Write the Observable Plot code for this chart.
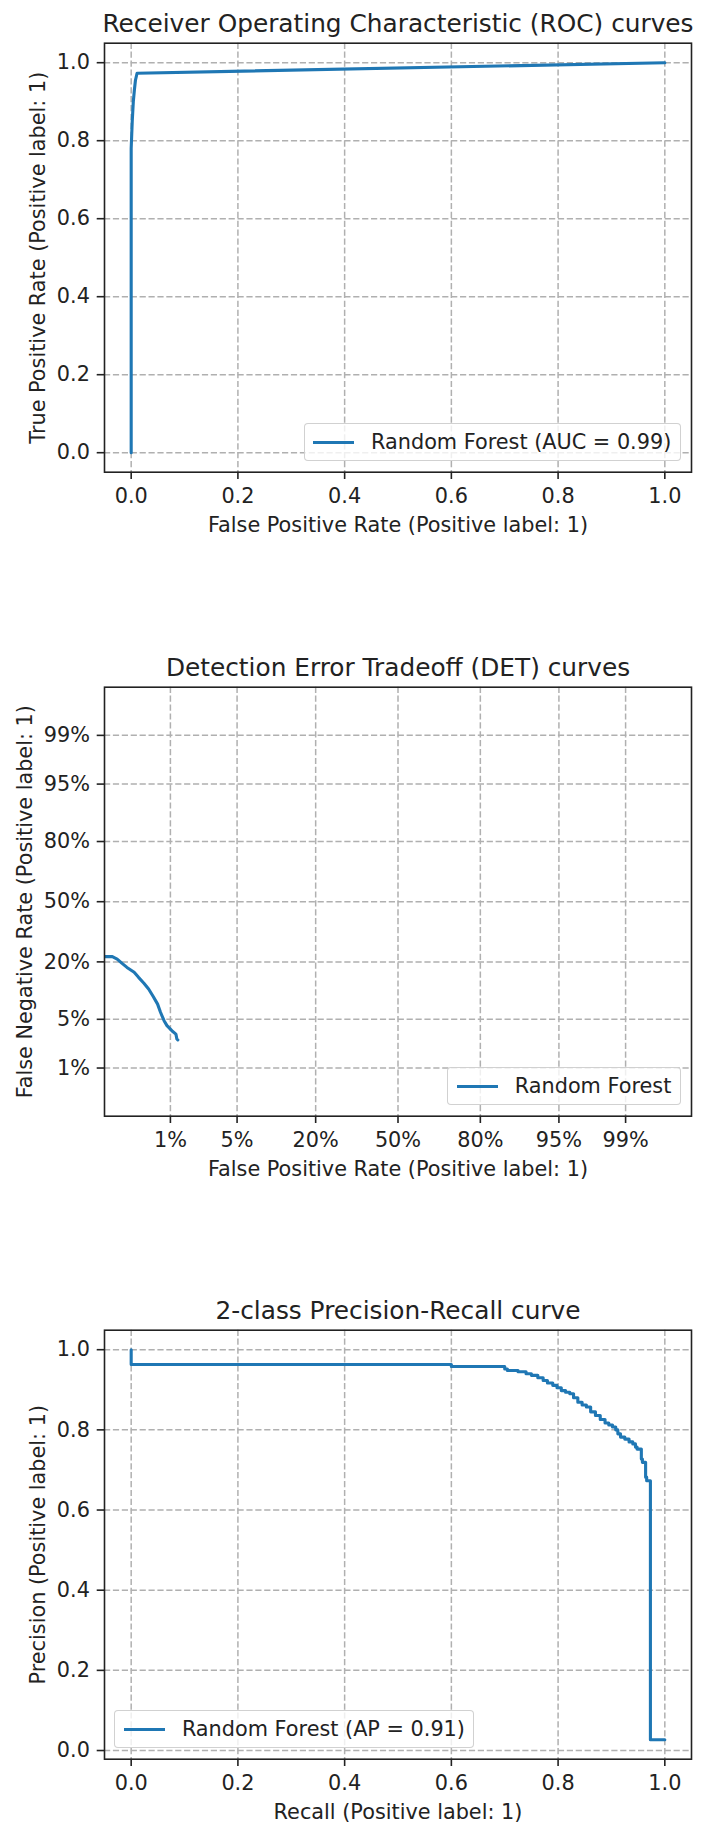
<!DOCTYPE html>
<html><head><meta charset="utf-8">
<script src="https://cdn.jsdelivr.net/npm/d3@7"></script>
<script src="https://cdn.jsdelivr.net/npm/@observablehq/plot@0.6"></script>
<style>
html,body{margin:0;padding:0;background:#fff;}
#root{position:relative;width:703px;height:1825px;overflow:hidden;font-family:"DejaVu Sans",sans-serif;color:#222;}
.chart{position:absolute;left:0;width:703px;}
.legend{position:absolute;box-sizing:border-box;height:38px;border:1.3px solid rgba(204,204,204,0.9);border-radius:4px;background:rgba(255,255,255,0.8);display:flex;align-items:center;font-size:20.8px;line-height:1;color:#222;padding-right:8.3px;white-space:nowrap;}
.swatch{width:41.6px;height:3.1px;background:#1f77b4;margin-left:8.3px;margin-right:16.6px;flex:none;}
</style></head><body><div id="root"></div>
<script>
// ---------- data ----------
const rocTitle = "Receiver Operating Characteristic (ROC) curves";
const rocXLabel = "False Positive Rate (Positive label: 1)";
const rocYLabel = "True Positive Rate (Positive label: 1)";
const rocLegend = "Random Forest (AUC = 0.99)";
const rocFpr = [0, 0, 0.002, 0.004, 0.006, 0.008, 0.011, 1.0];
const rocTpr = [0, 0.78, 0.85, 0.90, 0.93, 0.955, 0.973, 1.0];

const detTitle = "Detection Error Tradeoff (DET) curves";
const detXLabel = "False Positive Rate (Positive label: 1)";
const detYLabel = "False Negative Rate (Positive label: 1)";
const detLegend = "Random Forest";
// percentages
const detFpr = [0.10, 0.175, 0.205, 0.24, 0.28, 0.35, 0.40, 0.47, 0.54, 0.62, 0.70, 0.76, 0.84, 0.91, 1.04, 1.16, 1.19, 1.22];
const detFnr = [22.1, 22.1, 21.1, 19.4, 17.9, 16.2, 14.5, 12.7, 11.1, 9.2, 7.6, 6.1, 4.8, 4.15, 3.56, 3.2, 2.74, 2.66];
const detTicks = [0.01, 0.05, 0.2, 0.5, 0.8, 0.95, 0.99];
const detTickLabels = ["1%", "5%", "20%", "50%", "80%", "95%", "99%"];
const detLimits = [-3, 3];

const prTitle = "2-class Precision-Recall curve";
const prXLabel = "Recall (Positive label: 1)";
const prYLabel = "Precision (Positive label: 1)";
const prLegend = "Random Forest (AP = 0.91)";
const prRecall = [1.000, 0.973, 0.966, 0.964, 0.958, 0.956, 0.948, 0.945, 0.940, 0.933, 0.925, 0.917, 0.912, 0.908, 0.902, 0.895, 0.888, 0.879, 0.870, 0.861, 0.853, 0.845, 0.837, 0.829, 0.822, 0.814, 0.806, 0.798, 0.790, 0.780, 0.772, 0.762, 0.750, 0.740, 0.725, 0.705, 0.700, 0.608, 0.600, 0.000];
const prPrecision = [0.027, 0.673, 0.682, 0.719, 0.727, 0.752, 0.757, 0.765, 0.770, 0.777, 0.782, 0.790, 0.800, 0.807, 0.812, 0.817, 0.826, 0.836, 0.845, 0.857, 0.862, 0.869, 0.880, 0.890, 0.894, 0.898, 0.905, 0.911, 0.917, 0.923, 0.930, 0.936, 0.940, 0.945, 0.948, 0.952, 0.958, 0.958, 0.963, 1.000];

const unitTicks = [0, 0.2, 0.4, 0.6, 0.8, 1.0];

// ---------- helpers ----------
function probit(p) {
  const a=[-3.969683028665376e+01,2.209460984245205e+02,-2.759285104469687e+02,1.383577518672690e+02,-3.066479806614716e+01,2.506628277459239e+00];
  const b=[-5.447609879822406e+01,1.615858368580409e+02,-1.556989798598866e+02,6.680131188771972e+01,-1.328068155288572e+01];
  const c=[-7.784894002430293e-03,-3.223964580411365e-01,-2.400758277161838e+00,-2.549732539343734e+00,4.374664141464968e+00,2.938163982698783e+00];
  const d=[7.784695709041462e-03,3.224671290700398e-01,2.445134137142996e+00,3.754408661907416e+00];
  const pl=0.02425, ph=1-pl; let q, r;
  if (p < pl) { q=Math.sqrt(-2*Math.log(p)); return (((((c[0]*q+c[1])*q+c[2])*q+c[3])*q+c[4])*q+c[5])/((((d[0]*q+d[1])*q+d[2])*q+d[3])*q+1); }
  if (p > ph) { q=Math.sqrt(-2*Math.log(1-p)); return -(((((c[0]*q+c[1])*q+c[2])*q+c[3])*q+c[4])*q+c[5])/((((d[0]*q+d[1])*q+d[2])*q+d[3])*q+1); }
  q=p-0.5; r=q*q; return (((((a[0]*r+a[1])*r+a[2])*r+a[3])*r+a[4])*r+a[5])*q/(((((b[0]*r+b[1])*r+b[2])*r+b[3])*r+b[4])*r+1);
}
function autoDomain(vals) { // matplotlib-style 5% margins
  const lo = d3.min(vals), hi = d3.max(vals), m = 0.05 * (hi - lo);
  return [lo - m, hi + m];
}

const W = 703, H = 540, MT = 42.7, MB = 68.3, ML = 104, MR = 12;
const FS = 20.8, TFS = 24.8;
const BLUE = "#1f77b4", INK = "#222";
const gridStyle = {stroke: "#b0b0b0", strokeOpacity: 1, strokeWidth: 1.5, strokeDasharray: "6.2,2.7"};
const fmt1 = d3.format(".1f");

function decorations(title, xlabel, ylabel, ylabelDx) {
  return [
    Plot.frame({stroke: INK, strokeWidth: 1.6}),
    Plot.text([title], {frameAnchor: "top", lineAnchor: "bottom", textAnchor: "middle", dy: -11.3, fontSize: TFS, fill: INK}),
    Plot.text([xlabel], {frameAnchor: "bottom", lineAnchor: "bottom", textAnchor: "middle", dy: 59.5, fontSize: FS, fill: INK}),
    Plot.text([ylabel], {frameAnchor: "left", lineAnchor: "bottom", textAnchor: "middle", rotate: -90, dx: ylabelDx, fontSize: FS, fill: INK})
  ];
}
function axes(xt, yt, xf, yf) {
  return [
    Plot.axisX(xt, {anchor: "bottom", tickSize: 7.3, tickPadding: 8.3, strokeWidth: 1.6, fontSize: FS, tickFormat: xf, label: null}),
    Plot.axisY(yt, {anchor: "left", tickSize: 7.3, tickPadding: 7.3, strokeWidth: 1.6, fontSize: FS, tickFormat: yf, label: null})
  ];
}
function base() {
  return {width: W, height: H, marginTop: MT, marginBottom: MB, marginLeft: ML, marginRight: MR,
    style: {fontFamily: "DejaVu Sans", fontSize: FS + "px", color: INK, background: "transparent", overflow: "visible"}};
}

const root = document.getElementById("root");
function place(svg, top) {
  const div = document.createElement("div");
  div.className = "chart"; div.style.top = top + "px";
  div.appendChild(svg); root.appendChild(div);
}
function legend(text, top, side, offset) {
  const el = document.createElement("div");
  el.className = "legend";
  el.style.top = top + "px";
  el.style[side] = offset + "px";
  el.innerHTML = '<div class="swatch"></div><span></span>';
  el.querySelector("span").textContent = text;
  root.appendChild(el);
}

const tops = [0, 643.8, 1287];
const frameBottom = H - MB;

// ---------- ROC ----------
const rocData = rocFpr.map((x, i) => ({x, y: rocTpr[i]}));
place(Plot.plot({
  ...base(),
  x: {domain: autoDomain(rocFpr)},
  y: {domain: autoDomain(rocTpr)},
  marks: [
    Plot.gridX(unitTicks, gridStyle),
    Plot.gridY(unitTicks, gridStyle),
    Plot.line(rocData, {x: "x", y: "y", stroke: BLUE, strokeWidth: 3.1}),
    ...axes(unitTicks, unitTicks, fmt1, fmt1),
    ...decorations(rocTitle, rocXLabel, rocYLabel, -60)
  ]
}), tops[0]);
legend(rocLegend, tops[0] + frameBottom - 10.4 - 38, "right", MR + 10.4);

// ---------- DET ----------
const detTickPos = detTicks.map(probit);
const detFmt = d => detTickLabels[detTickPos.findIndex(v => Math.abs(v - d) < 1e-9)];
const detData = detFpr.map((f, i) => ({x: probit(f / 100), y: probit(detFnr[i] / 100)}));
place(Plot.plot({
  ...base(),
  x: {domain: detLimits},
  y: {domain: detLimits},
  marks: [
    Plot.gridX(detTickPos, gridStyle),
    Plot.gridY(detTickPos, gridStyle),
    Plot.line(detData, {x: "x", y: "y", stroke: BLUE, strokeWidth: 3.1, clip: true}),
    ...axes(detTickPos, detTickPos, detFmt, detFmt),
    ...decorations(detTitle, detXLabel, detYLabel, -73)
  ]
}), tops[1]);
legend(detLegend, tops[1] + frameBottom - 10.4 - 38, "right", MR + 10.4);

// ---------- PR ----------
const prData = prRecall.map((x, i) => ({x, y: prPrecision[i]}));
place(Plot.plot({
  ...base(),
  x: {domain: autoDomain(prRecall)},
  y: {domain: autoDomain(prPrecision)},
  marks: [
    Plot.gridX(unitTicks, gridStyle),
    Plot.gridY(unitTicks, gridStyle),
    Plot.line(prData, {x: "x", y: "y", stroke: BLUE, strokeWidth: 3.1, curve: "step-after"}),
    ...axes(unitTicks, unitTicks, fmt1, fmt1),
    ...decorations(prTitle, prXLabel, prYLabel, -60)
  ]
}), tops[2]);
legend(prLegend, tops[2] + frameBottom - 10.4 - 38, "left", ML + 10.4);
</script>
</body></html>
